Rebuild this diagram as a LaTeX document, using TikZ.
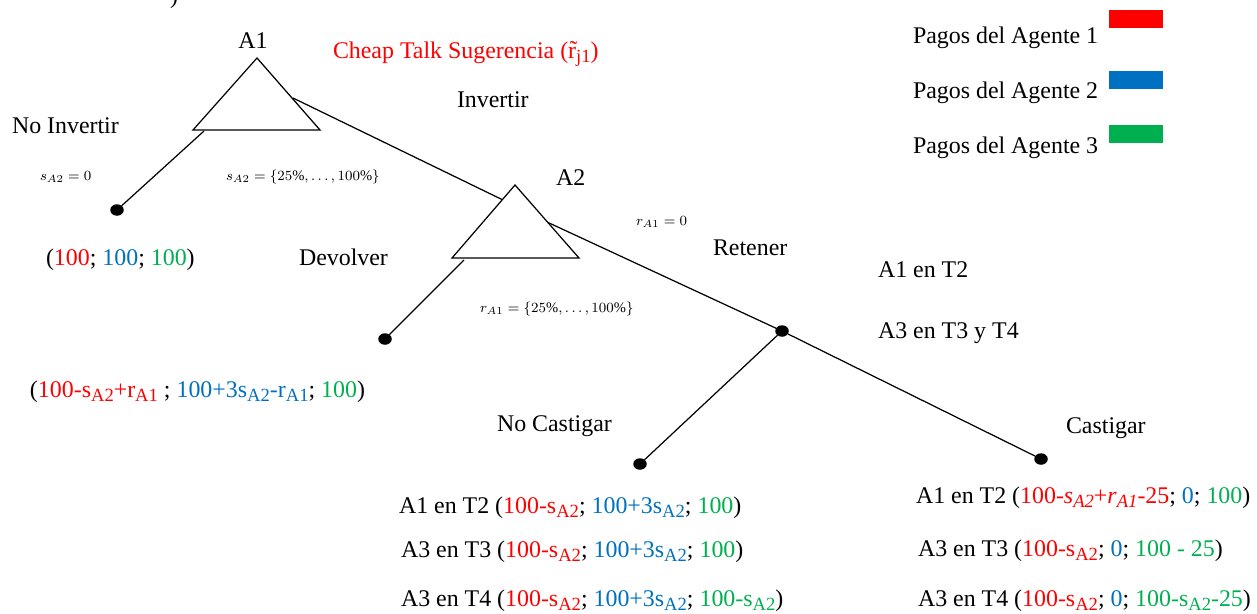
\documentclass[tikz,border=0pt]{standalone}
\usepackage{fontspec}
\setmainfont{Liberation Serif}
\usetikzlibrary{shapes.geometric}
\definecolor{pr}{HTML}{FF0000}
\definecolor{pb}{HTML}{0070C0}
\definecolor{pg}{HTML}{00B050}
\newcommand{\mysb}[1]{\raisebox{-0.2em}{\fontsize{10.6}{11}\selectfont #1}}
\begin{document}
\begin{tikzpicture}[x=0.02cm,y=-0.02cm,
  every node/.style={inner sep=0pt,outer sep=0pt},
  lbl/.style={anchor=base west,font=\fontsize{13.6}{16}\selectfont},
  sm/.style={anchor=base west,font=\fontsize{8.3}{10}\selectfont},
  dot/.style={ellipse,fill=black,minimum width=0.27cm,minimum height=0.23cm},
  conn/.style={line width=0.7pt},
  tri/.style={draw,line width=0.7pt,fill=white,line join=miter},
  legbox/.style={minimum width=1.08cm,minimum height=0.36cm}]
\useasboundingbox (0,0) rectangle (1257,613);

% connectors anchors
\coordinate (A1l) at (204,131);
\coordinate (A1r) at (293,98);
\coordinate (A2l) at (503,200);
\coordinate (A2r) at (547,222);
\coordinate (A2b) at (464,260);

% terminal / chance nodes
\node[dot] (d1) at (117,210) {};
\node[dot] (d2) at (385,339) {};
\node[dot] (d3) at (782,331) {};
\node[dot] (d4) at (640,464) {};
\node[dot] (d5) at (1041,459) {};

% connectors
\draw[conn] (A1l) -- (d1);
\draw[conn] (A1r) -- (A2l);
\draw[conn] (A2b) -- (d2);
\draw[conn] (A2r) -- (d3);
\draw[conn] (d3) -- (d4);
\draw[conn] (d3) -- (d5);

% decision triangles
\draw[tri] (257,58) -- (320,130) -- (193,130) -- cycle;
\draw[tri] (515,185) -- (579,258) -- (452,258) -- cycle;

% stray parenthesis at top
\node[lbl] (par) at (170,3) {)};

% labels
\node[lbl,anchor=base] (lA1) at (253,48) {A1};
\node[lbl,text=pr] (ct) at (333,58) {Cheap Talk Sugerencia (\~{r}\mysb{j1})};
\node[lbl] (inv) at (457,107) {Invertir};
\node[lbl] (noinv) at (12,133) {No Invertir};
\node[sm] (s0) at (40,180) {$s_{A2}=0$};
\node[sm] (s1) at (226,180) {$s_{A2}=\{25\%,\ldots,100\%\}$};
\node[lbl] (lA2) at (556,185) {A2};
\node[sm] (r0) at (636,225) {$r_{A1}=0$};
\node[lbl] (dev) at (299,265) {Devolver};
\node[lbl] (ret) at (713,255) {Retener};
\node[sm] (r1) at (480,312) {$r_{A1}=\{25\%,\ldots,100\%\}$};
\node[lbl] (t2) at (878,277) {A1 en T2};
\node[lbl] (t34) at (878,338) {A3 en T3 y T4};
\node[lbl] (nc) at (497,431) {No Castigar};
\node[lbl] (c) at (1066,433) {Castigar};

% payoffs
\node[lbl] (p1) at (46,265) {(\textcolor{pr}{100}; \textcolor{pb}{100}; \textcolor{pg}{100})};
\node[lbl] (p2) at (30,397) {(\textcolor{pr}{100-s\mysb{A2}+r\mysb{A1}} ; \textcolor{pb}{100+3s\mysb{A2}-r\mysb{A1}}; \textcolor{pg}{100})};
\node[lbl] (p3) at (399,513) {A1 en T2 (\textcolor{pr}{100-s\mysb{A2}}; \textcolor{pb}{100+3s\mysb{A2}}; \textcolor{pg}{100})};
\node[lbl] (p4) at (401,557) {A3 en T3 (\textcolor{pr}{100-s\mysb{A2}}; \textcolor{pb}{100+3s\mysb{A2}}; \textcolor{pg}{100})};
\node[lbl] (p5) at (401,606) {A3 en T4 (\textcolor{pr}{100-s\mysb{A2}}; \textcolor{pb}{100+3s\mysb{A2}}; \textcolor{pg}{100-s\mysb{A2}})};
\node[lbl] (p6) at (916,503) {A1 en T2 (\textcolor{pr}{100-\textit{s}\mysb{\textit{A2}}+\textit{r}\mysb{\textit{A1}}-25}; \textcolor{pb}{0}; \textcolor{pg}{100})};
\node[lbl] (p7) at (918,556) {A3 en T3 (\textcolor{pr}{100-s\mysb{A2}}; \textcolor{pb}{0}; \textcolor{pg}{100 - 25})};
\node[lbl] (p8) at (918,606) {A3 en T4 (\textcolor{pr}{100-s\mysb{A2}}; \textcolor{pb}{0}; \textcolor{pg}{100-s\mysb{A2}-25})};

% legend
\node[lbl] (g1) at (913,43) {Pagos del Agente 1};
\node[lbl] (g2) at (913,98) {Pagos del Agente 2};
\node[lbl] (g3) at (913,153) {Pagos del Agente 3};
\node[legbox,fill=pr] (k1) at (1136,19) {};
\node[legbox,fill=pb] (k2) at (1136,80) {};
\node[legbox,fill=pg] (k3) at (1136,134) {};
\end{tikzpicture}
\end{document}
